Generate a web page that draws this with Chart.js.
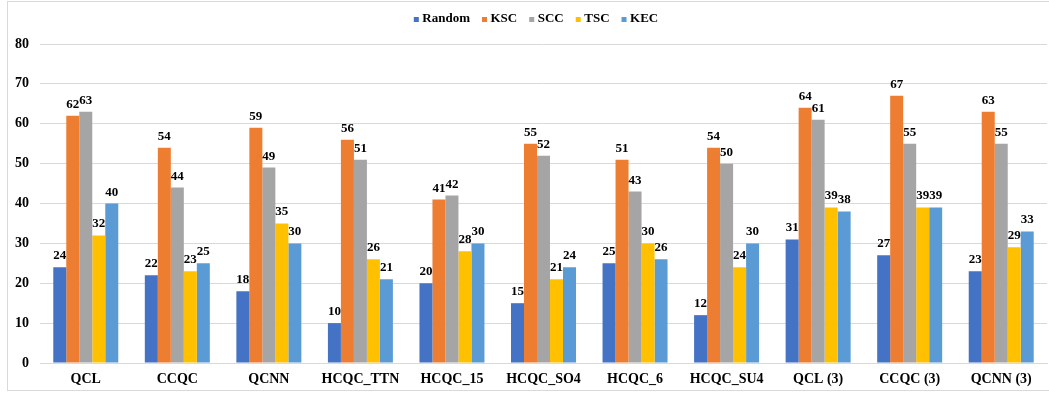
<!DOCTYPE html>
<html>
<head>
<meta charset="utf-8">
<script src="https://cdn.jsdelivr.net/npm/chart.js@4/dist/chart.umd.min.js"></script>
<style>
  html, body { margin: 0; padding: 0; background: #ffffff; overflow: hidden; }
  #wrap { position: relative; width: 1049px; height: 396px; }
  #frame { position: absolute; left: 7px; top: 1px; width: 1100px; height: 390px; border: 1px solid #d9d9d9; box-sizing: border-box; pointer-events: none; }
  canvas { position: absolute; left: 0; top: 0; }
</style>
</head>
<body>
<div id="wrap">
  <canvas id="c" width="1049" height="396"></canvas>
  <div id="frame"></div>
</div>
<script>
const categories = ['QCL', 'CCQC', 'QCNN', 'HCQC_TTN', 'HCQC_15', 'HCQC_SO4', 'HCQC_6', 'HCQC_SU4', 'QCL (3)', 'CCQC (3)', 'QCNN (3)'];
const randomVals = [24, 22, 18, 10, 20, 15, 25, 12, 31, 27, 23];
const kscVals    = [62, 54, 59, 56, 41, 55, 51, 54, 64, 67, 63];
const sccVals    = [63, 44, 49, 51, 42, 52, 43, 50, 61, 55, 55];
const tscVals    = [32, 23, 35, 26, 28, 21, 30, 24, 39, 39, 29];
const kecVals    = [40, 25, 30, 21, 30, 24, 26, 30, 38, 39, 33];
const yTicks = [0, 10, 20, 30, 40, 50, 60, 70, 80];

const serif = "'Liberation Serif', 'Times New Roman', serif";

// value labels above every bar
const valueLabels = {
  id: 'valueLabels',
  afterDatasetsDraw(chart) {
    const ctx = chart.ctx;
    ctx.save();
    ctx.font = 'bold 13px ' + serif;
    ctx.fillStyle = '#000000';
    ctx.textAlign = 'center';
    ctx.textBaseline = 'alphabetic';
    chart.data.datasets.forEach((ds, i) => {
      chart.getDatasetMeta(i).data.forEach((bar, j) => {
        ctx.fillText(String(ds.data[j]), bar.x, bar.y - 8);
      });
    });
    ctx.restore();
  }
};

// compact legend row: small square swatch right before each series name
const compactLegend = {
  id: 'compactLegend',
  afterDraw(chart) {
    const ctx = chart.ctx;
    const box = 5, gapText = 3.5, gapItem = 12, y = 19;
    ctx.save();
    ctx.font = 'bold 13px ' + serif;
    ctx.textBaseline = 'middle';
    ctx.textAlign = 'left';
    const items = chart.data.datasets.map(ds => ({
      label: ds.label, color: ds.backgroundColor, w: ctx.measureText(ds.label).width
    }));
    const total = items.reduce((s, it) => s + box + gapText + it.w, 0) + gapItem * (items.length - 1);
    let x = 536 - total / 2;
    items.forEach(it => {
      ctx.fillStyle = it.color;
      ctx.fillRect(x, y - box / 2 + 0.5, box, box);
      x += box + gapText;
      ctx.fillStyle = '#000000';
      ctx.fillText(it.label, x, y);
      x += it.w + gapItem;
    });
    ctx.restore();
  }
};

new Chart(document.getElementById('c'), {
  type: 'bar',
  data: {
    labels: categories,
    datasets: [
      { label: 'Random', data: randomVals, backgroundColor: '#4472C4' },
      { label: 'KSC', data: kscVals, backgroundColor: '#ED7D31' },
      { label: 'SCC', data: sccVals, backgroundColor: '#A5A5A5' },
      { label: 'TSC', data: tscVals, backgroundColor: '#FFC000' },
      { label: 'KEC', data: kecVals, backgroundColor: '#5B9BD5' }
    ]
  },
  options: {
    responsive: false,
    animation: false,
    layout: { padding: { left: 0, right: 2, top: 44, bottom: 0 } },
    datasets: { bar: { categoryPercentage: 0.71, barPercentage: 1.0 } },
    plugins: {
      legend: { display: false },
      tooltip: { enabled: false }
    },
    scales: {
      x: {
        grid: { display: false, drawTicks: false },
        border: { display: true, color: '#d9d9d9' },
        ticks: { font: { family: serif, size: 14, weight: 'bold' }, color: '#000000', padding: 8 },
        afterFit(scale) { scale.height = 33; }
      },
      y: {
        min: 0, max: 80,
        afterBuildTicks(scale) { scale.ticks = yTicks.map(v => ({ value: v })); },
        grid: { color: '#d9d9d9', drawTicks: false },
        border: { display: false },
        ticks: { font: { family: serif, size: 14, weight: 'bold' }, color: '#000000', padding: 11 },
        afterFit(scale) { scale.width = 40; }
      }
    }
  },
  plugins: [valueLabels, compactLegend]
});
</script>
</body>
</html>
